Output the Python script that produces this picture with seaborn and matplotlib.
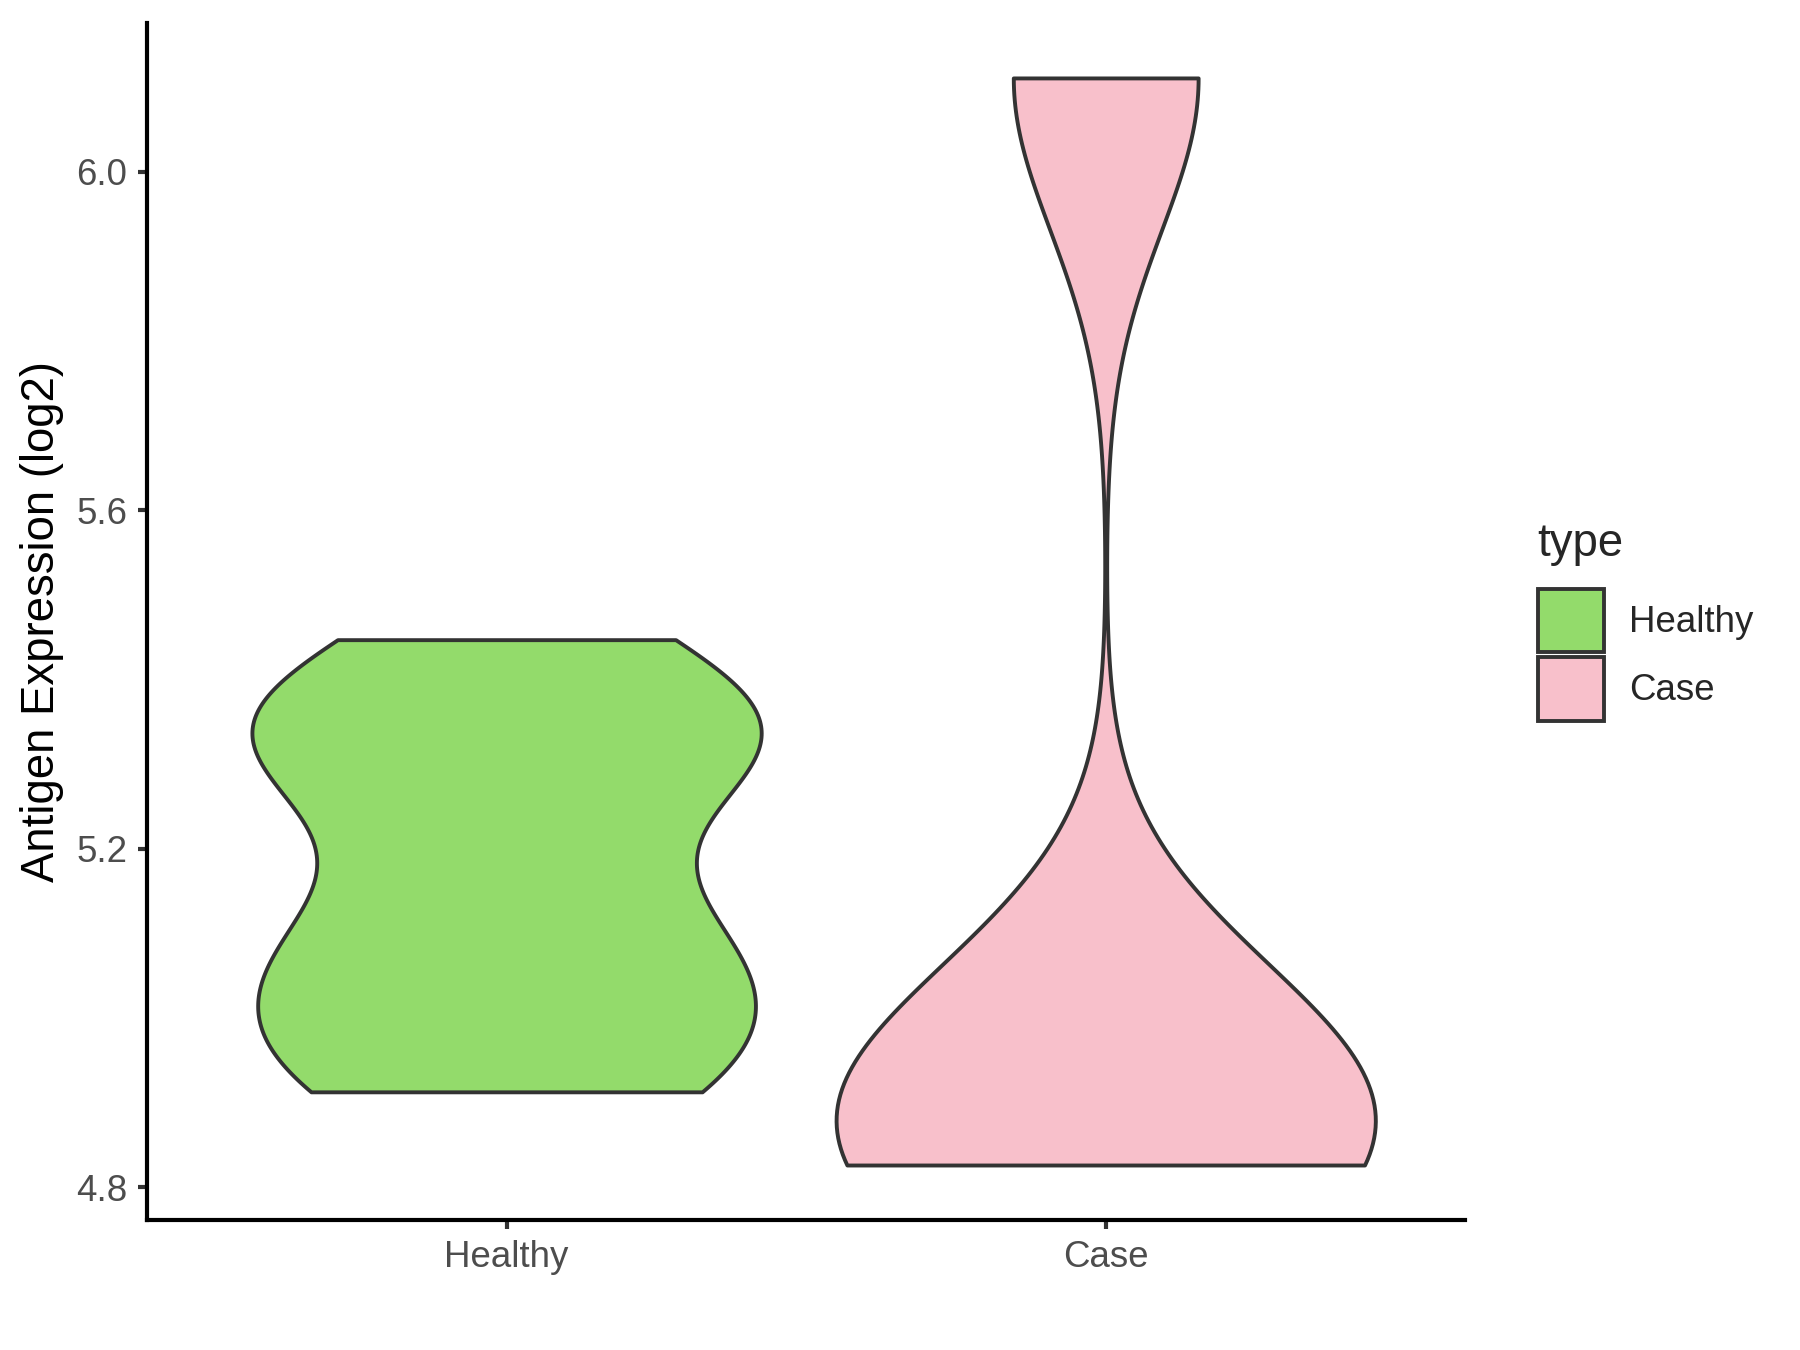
import pandas as pd
import seaborn as sns
import matplotlib.pyplot as plt
from matplotlib.patches import Patch

sns.set_style("white")
plt.rcParams['font.family'] = ['Liberation Sans', 'DejaVu Sans']

types = ["Healthy", "Case"]
colors = ["#93DB6B", "#F8C0CB"]
healthy_vals = [4.9125, 4.925, 4.98, 5.04, 5.09, 5.12, 5.31, 5.325, 5.34, 5.35, 5.447]
case_vals = [4.826, 4.88, 4.93, 6.111]
bws = [0.528, 0.29]
widths = [0.85, 0.9]

dat = pd.DataFrame({
    "type": ["Healthy"] * len(healthy_vals) + ["Case"] * len(case_vals),
    "value": healthy_vals + case_vals,
})

fig = plt.figure(figsize=(9, 6.75), dpi=200)
ax = fig.add_axes([0.0817, 0.0963, 0.7323, 0.8867])

for t, c, bw, w in zip(types, colors, bws, widths):
    sns.violinplot(data=dat[dat["type"] == t], x="type", y="value", order=types,
                   color=c, cut=0, inner=None, bw_method=bw, density_norm="width",
                   width=w, linewidth=1.4, linecolor="#333333", saturation=1,
                   gridsize=200, ax=ax)

ax.set_xlim(-0.6, 1.6)
ax.set_ylim(4.761, 6.176)
ax.set_yticks([4.8, 5.2, 5.6, 6.0])
ax.set_yticklabels(["4.8", "5.2", "5.6", "6.0"])
ax.set_xlabel("")
ax.set_ylabel("Antigen Expression (log2)", fontsize=16.4, color="black", labelpad=4.5)
ax.tick_params(axis="both", length=3.3, width=1.5, color="#333333", pad=3.8,
               labelsize=13.2, labelcolor="#4D4D4D", direction="out",
               left=True, bottom=True)
for s in ["top", "right"]:
    ax.spines[s].set_visible(False)
for s in ["left", "bottom"]:
    ax.spines[s].set_color("black")
    ax.spines[s].set_linewidth(1.5)

handles = [Patch(facecolor=c, edgecolor="#333333", linewidth=1.4, label=t)
           for t, c in zip(types, colors)]
leg = ax.legend(handles=handles, title="type", loc="center left",
                bbox_to_anchor=(1.03, 0.5), frameon=False, fontsize=13.2,
                title_fontsize=16.4, handlelength=1.82, handleheight=2.3,
                labelspacing=0.12, handletextpad=0.68)
leg._legend_box.align = "left"
leg._legend_box.sep = 8

plt.savefig("out.png", dpi=200)
plt.close()
